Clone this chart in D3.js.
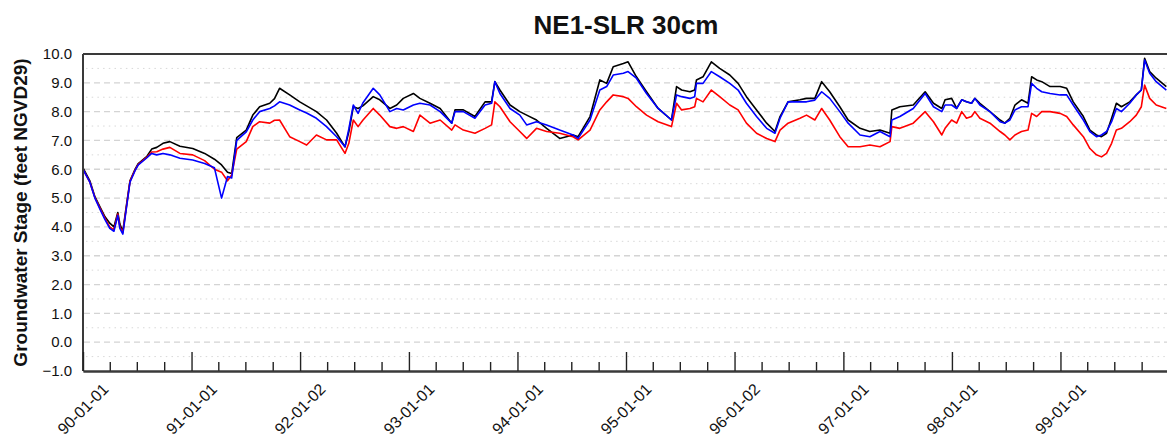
<!DOCTYPE html>
<html>
<head>
<meta charset="utf-8">
<script src="https://cdn.jsdelivr.net/npm/d3@7"></script>
<style>
  html, body { margin: 0; padding: 0; background: #fff; }
  svg { display: block; }
  text { font-family: "Liberation Sans", Arial, Helvetica, sans-serif; }
</style>
</head>
<body>
<svg id="chart" width="1167" height="441"></svg>
<script>
// ---------------- data ----------------
const chartTitle = "NE1-SLR 30cm";
const yAxisTitle = "Groundwater Stage (feet NGVD29)";
const xTickLabels = ["90-01-01","91-01-01","92-01-02","93-01-01","94-01-01","95-01-01","96-01-02","97-01-01","98-01-01","99-01-01"];
const yTickValues = [-1,0,1,2,3,4,5,6,7,8,9,10];

const dates = [
"1990-01-01","1990-01-24","1990-02-10","1990-02-27","1990-03-16","1990-04-01","1990-04-15","1990-04-28","1990-05-05","1990-05-15",
"1990-05-25","1990-06-08","1990-06-25","1990-07-06","1990-08-04","1990-08-20","1990-09-06","1990-09-27","1990-10-20","1990-11-23",
"1991-01-05","1991-02-14","1991-03-19","1991-04-12","1991-05-02","1991-05-16","1991-06-02","1991-07-04","1991-07-26","1991-08-18",
"1991-09-21","1991-10-07","1991-10-24","1991-11-27","1991-12-31","1992-01-23","1992-02-25","1992-03-30","1992-05-03","1992-05-31",
"1992-06-13","1992-06-28","1992-07-14","1992-07-30","1992-09-03","1992-09-25","1992-10-29","1992-11-21","1992-12-13","1993-01-16",
"1993-02-07","1993-03-13","1993-04-16","1993-05-25","1993-06-05","1993-07-03","1993-08-11","1993-09-14","1993-10-06","1993-10-17",
"1993-11-03","1993-12-07","1994-01-09","1994-02-01","1994-03-06","1994-04-09","1994-05-23","1994-07-07","1994-07-24","1994-09-02",
"1994-10-05","1994-10-28","1994-11-19","1994-12-23","1995-01-08","1995-02-05","1995-03-11","1995-04-19","1995-06-03","1995-06-20",
"1995-07-07","1995-08-04","1995-08-20","1995-08-26","1995-09-17","1995-10-15","1995-11-12","1995-12-16","1996-01-13","1996-02-10",
"1996-03-15","1996-04-18","1996-05-16","1996-06-02","1996-06-29","1996-08-08","1996-08-30","1996-09-27","1996-10-20","1996-11-16",
"1996-12-20","1997-01-17","1997-02-26","1997-03-31","1997-05-04","1997-06-07","1997-06-13","1997-07-10","1997-08-24","1997-10-03",
"1997-10-31","1997-11-28","1997-12-09","1997-12-31","1998-01-17","1998-02-03","1998-02-19","1998-03-08","1998-03-19","1998-04-05",
"1998-05-09","1998-06-12","1998-06-28","1998-07-15","1998-08-01","1998-08-23","1998-09-14","1998-09-26","1998-10-13","1998-10-30",
"1998-11-27","1998-12-31","1999-01-22","1999-02-13","1999-03-19","1999-04-10","1999-05-02","1999-05-19","1999-06-05","1999-06-22",
"1999-07-08","1999-07-25","1999-08-22","1999-09-13","1999-09-30","1999-10-11","1999-10-28","1999-11-19","1999-12-23"
];

const blackSeries = [
6.05,5.60,5.05,4.70,4.35,4.13,4.00,4.50,4.10,3.85,
4.60,5.60,6.00,6.20,6.45,6.70,6.76,6.90,6.96,6.80,
6.72,6.55,6.35,6.15,5.90,5.85,7.10,7.36,7.88,8.17,
8.29,8.45,8.81,8.58,8.34,8.20,8.00,7.71,7.25,6.78,
7.30,8.17,8.11,8.20,8.52,8.41,8.11,8.23,8.46,8.63,
8.46,8.29,8.11,7.60,8.06,8.06,7.83,8.34,8.34,9.04,
8.75,8.23,8.00,7.88,7.71,7.42,7.07,7.19,7.13,7.83,
9.10,8.98,9.56,9.67,9.73,9.21,8.69,8.11,7.71,8.87,
8.75,8.69,8.75,9.10,9.21,9.73,9.50,9.27,8.98,8.52,
8.06,7.60,7.31,7.83,8.34,8.41,8.46,8.46,9.04,8.69,
8.17,7.71,7.42,7.31,7.36,7.25,8.06,8.17,8.23,8.69,
8.29,8.11,8.41,8.46,8.11,8.41,8.34,8.29,8.46,8.29,
8.00,7.71,7.60,7.77,8.23,8.41,8.29,9.21,9.10,9.04,
8.87,8.87,8.81,8.34,7.83,7.36,7.19,7.13,7.25,7.77,
8.29,8.17,8.34,8.58,8.75,9.85,9.39,9.16,8.87
];

const blueSeries = [
6.00,5.55,5.00,4.62,4.25,3.95,3.85,4.40,3.95,3.75,
4.50,5.55,5.95,6.15,6.40,6.55,6.50,6.55,6.50,6.38,
6.32,6.20,6.05,5.00,5.75,5.70,7.00,7.30,7.71,8.00,
8.11,8.20,8.34,8.23,8.06,7.95,7.77,7.48,7.13,6.78,
7.40,8.23,7.94,8.30,8.81,8.58,8.00,8.11,8.06,8.23,
8.29,8.23,8.00,7.60,8.00,8.00,7.77,8.23,8.29,9.04,
8.63,8.11,7.88,7.54,7.65,7.54,7.36,7.19,7.07,7.71,
8.75,8.87,9.27,9.33,9.39,9.16,8.63,8.11,7.71,8.58,
8.52,8.46,8.52,8.98,8.98,9.39,9.21,8.98,8.75,8.29,
7.83,7.42,7.25,7.77,8.34,8.34,8.34,8.40,8.69,8.46,
8.00,7.60,7.19,7.13,7.31,7.13,7.71,7.83,8.11,8.63,
8.17,8.00,8.23,8.23,8.11,8.41,8.34,8.29,8.46,8.23,
8.00,7.65,7.60,7.71,8.06,8.17,8.17,8.98,8.81,8.69,
8.63,8.58,8.58,8.23,7.71,7.31,7.13,7.19,7.31,7.65,
8.11,8.00,8.29,8.58,8.75,9.79,9.33,9.04,8.75
];

const redSeries = [
6.00,5.55,5.02,4.65,4.30,4.00,3.90,4.45,4.00,3.80,
4.55,5.58,5.97,6.17,6.42,6.60,6.61,6.70,6.76,6.55,
6.50,6.30,6.00,5.90,5.60,5.80,6.70,6.96,7.48,7.65,
7.60,7.70,7.71,7.13,6.96,6.84,7.19,7.02,7.02,6.55,
6.90,7.71,7.48,7.70,8.11,7.88,7.48,7.42,7.48,7.31,
7.88,7.60,7.71,7.36,7.54,7.36,7.25,7.42,7.54,8.34,
8.17,7.65,7.31,7.07,7.42,7.31,7.25,7.13,7.02,7.36,
8.06,8.34,8.58,8.52,8.46,8.17,7.88,7.65,7.48,8.29,
8.06,8.11,8.17,8.46,8.34,8.75,8.52,8.23,8.06,7.60,
7.25,7.07,6.96,7.36,7.60,7.77,7.88,7.71,8.11,7.71,
7.13,6.78,6.78,6.84,6.78,6.96,7.48,7.42,7.60,8.00,
7.65,7.19,7.42,7.71,7.60,8.00,7.77,7.83,8.00,7.77,
7.60,7.31,7.19,7.02,7.19,7.31,7.36,7.94,7.83,8.00,
8.00,7.94,7.83,7.54,7.13,6.72,6.50,6.43,6.55,6.90,
7.36,7.42,7.65,7.88,8.17,8.92,8.46,8.23,8.11
];

// ---------------- layout ----------------
const plot = { left: 83, top: 54, right: 1169, bottom: 371 };

const svg = d3.select("#chart");
const parse = d3.utcParse("%Y-%m-%d");
const parsedDates = dates.map(parse);

const x = d3.scaleUtc()
  .domain([Date.UTC(1990, 0, 1), Date.UTC(2000, 0, 1)])
  .range([plot.left, plot.right]);
const y = d3.scaleLinear().domain([-1, 10]).range([plot.bottom, plot.top]);

// grid lines
const grid = svg.append("g");
const intLines = d3.range(0, 10);
const halfLines = d3.range(-0.5, 10, 1);
grid.selectAll("line.dash").data(intLines).join("line")
  .attr("x1", plot.left + 1).attr("x2", plot.right)
  .attr("y1", d => y(d)).attr("y2", d => y(d))
  .attr("stroke", "#d4d4d4").attr("stroke-width", 1.3)
  .attr("stroke-dasharray", "6,4");
grid.selectAll("line.dot").data(halfLines).join("line")
  .attr("x1", plot.left + 3).attr("x2", plot.right)
  .attr("y1", d => y(d)).attr("y2", d => y(d))
  .attr("stroke", "#d8d8d8").attr("stroke-width", 1)
  .attr("stroke-dasharray", "1.5,4.2");

// series lines
const line = d3.line()
  .x((d, i) => x(parsedDates[i]))
  .y(d => y(d));

const series = [
  { values: blackSeries, color: "#000000" },
  { values: redSeries, color: "#ff0000" },
  { values: blueSeries, color: "#0000ff" }
];
svg.append("g").selectAll("path").data(series).join("path")
  .attr("d", d => line(d.values))
  .attr("fill", "none")
  .attr("stroke", d => d.color)
  .attr("stroke-width", 1.6)
  .attr("stroke-linejoin", "round");

// frame
const frame = svg.append("g").attr("stroke", "#3a3a3a").attr("stroke-width", 2);
frame.append("line").attr("x1", plot.left).attr("x2", plot.right).attr("y1", plot.top).attr("y2", plot.top);
frame.append("line").attr("x1", plot.left).attr("x2", plot.left).attr("y1", plot.top).attr("y2", plot.bottom);

// x axis: major ticks yearly, minor quarterly, ticks point inward
const majorTicks = d3.utcYear.range(Date.UTC(1990, 0, 1), Date.UTC(2000, 0, 1));
const minorTicks = d3.utcMonth.every(3).range(Date.UTC(1990, 0, 1), Date.UTC(2000, 1, 1))
  .filter(d => d.getUTCMonth() !== 0);

const xAxisMajor = d3.axisBottom(x).tickValues(majorTicks).tickSizeInner(-19).tickSizeOuter(0).tickFormat("");
const xAxisMinor = d3.axisBottom(x).tickValues(minorTicks).tickSizeInner(-9).tickSizeOuter(0).tickFormat("");

const gxMinor = svg.append("g").attr("transform", `translate(0,${plot.bottom})`).call(xAxisMinor);
const gxMajor = svg.append("g").attr("transform", `translate(0,${plot.bottom})`).call(xAxisMajor);
[gxMinor, gxMajor].forEach(g => {
  g.select(".domain").attr("stroke", "#3a3a3a").attr("stroke-width", 2);
  g.selectAll(".tick line").attr("stroke", "#222").attr("stroke-width", 1.4);
});

// x tick labels (rotated about their centres, centred below each major tick)
svg.append("g").selectAll("text").data(majorTicks).join("text")
  .attr("transform", d => `translate(${x(d)},${plot.bottom + 38}) rotate(-45)`)
  .attr("text-anchor", "middle")
  .attr("dominant-baseline", "central")
  .attr("font-size", 16)
  .attr("fill", "#111")
  .text((d, i) => xTickLabels[i]);

// y axis labels
const yAxis = d3.axisLeft(y).tickValues(yTickValues).tickSize(0).tickPadding(11)
  .tickFormat(d3.format(".1f"));
const gy = svg.append("g").attr("transform", `translate(${plot.left},0)`).call(yAxis);
gy.select(".domain").remove();
gy.selectAll("text").attr("font-size", 15).attr("fill", "#111")
  .attr("font-family", "Liberation Sans, Arial, sans-serif");

// titles
svg.append("text")
  .attr("x", 626).attr("y", 34)
  .attr("text-anchor", "middle")
  .attr("font-size", 26).attr("font-weight", "bold").attr("fill", "#111")
  .text(chartTitle);

svg.append("text")
  .attr("transform", `translate(27,${(plot.top + plot.bottom) / 2}) rotate(-90)`)
  .attr("text-anchor", "middle")
  .attr("font-size", 19).attr("font-weight", "bold").attr("fill", "#111")
  .text(yAxisTitle);
</script>
</body>
</html>
